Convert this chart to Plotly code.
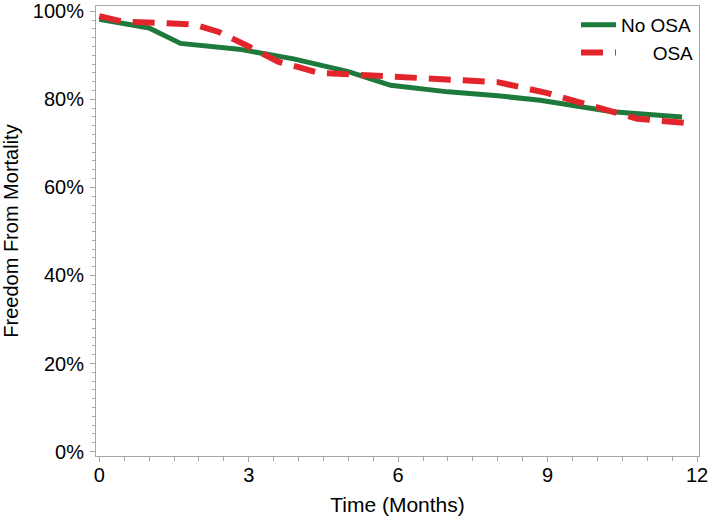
import plotly.graph_objects as go

# Data (months, % freedom from mortality)
no_osa_months = [0, 1.0, 1.63, 2.8, 3.9, 5.0, 5.85, 7.0, 8.0, 8.85, 10.3, 11.7]
no_osa_pct = [98.2, 96.2, 92.7, 91.4, 89.2, 86.3, 83.2, 81.7, 80.8, 79.8, 77.2, 76.0]

osa_months = [0, 0.45, 1.9, 2.4, 3.0, 3.6, 4.0, 4.4, 5.0, 6.0, 7.0, 8.0, 9.0, 10.3, 10.8, 11.9]
osa_pct = [98.9, 97.7, 97.0, 95.3, 92.0, 88.5, 87.3, 86.0, 85.7, 85.0, 84.5, 83.9, 81.4, 77.2, 75.6, 74.5]

x_ticks = [0, 3, 6, 9, 12]
y_ticks = [0, 20, 40, 60, 80, 100]

FONT = "Arial, Liberation Sans, sans-serif"
axis_col = "#a6a6a6"

fig = go.Figure()
fig.add_trace(go.Scatter(
    x=no_osa_months, y=no_osa_pct, mode="lines", name="No OSA",
    line=dict(color="#1d7a3c", width=5),
))
fig.add_trace(go.Scatter(
    x=osa_months, y=osa_pct, mode="lines", name="\u00a0\u00a0\u00a0\u00a0\u00a0\u00a0OSA",
    line=dict(color="#e2242b", width=6, dash="22px,12px"),
))

fig.update_layout(
    width=709, height=522,
    margin=dict(l=96, r=10, t=6, b=66),
    paper_bgcolor="white", plot_bgcolor="white",
    font=dict(family=FONT, color="black"),
    legend=dict(
        x=1.0, xanchor="right", y=1.0, yanchor="top",
        bgcolor="rgba(0,0,0,0)", font=dict(size=19, family=FONT),
        tracegroupgap=0, itemwidth=35,
    ),
)
fig.update_xaxes(
    range=[-0.066, 12.04], tickvals=x_ticks, ticktext=[str(v) for v in x_ticks],
    automargin=False,
    showgrid=False, zeroline=False,
    showline=True, linecolor=axis_col, linewidth=1, mirror=True,
    ticks="outside", ticklen=5, tickcolor=axis_col, tickwidth=1,
    tickfont=dict(size=20, family=FONT), ticklabelstandoff=-4,
    minor=dict(dtick=0.5, ticks="outside", ticklen=4, tickcolor=axis_col, showgrid=False),
    title=dict(text="Time (Months)", font=dict(size=21, family=FONT), standoff=12),
)
fig.update_yaxes(
    range=[-1.0, 101.2], tickvals=y_ticks, ticktext=[f"{v}%" for v in y_ticks],
    automargin=False,
    showgrid=False, zeroline=False,
    showline=True, linecolor=axis_col, linewidth=1, mirror=True,
    ticks="outside", ticklen=5, tickcolor=axis_col, tickwidth=1,
    tickfont=dict(size=20, family=FONT), ticklabelstandoff=2,
    minor=dict(dtick=2, ticks="outside", ticklen=3, tickcolor=axis_col, showgrid=False),
    title=dict(text="Freedom From Mortality", font=dict(size=20, family=FONT), standoff=10),
)

fig.write_html("out.html", config={"displayModeBar": False},
               post_script="document.body.style.margin='0';")
